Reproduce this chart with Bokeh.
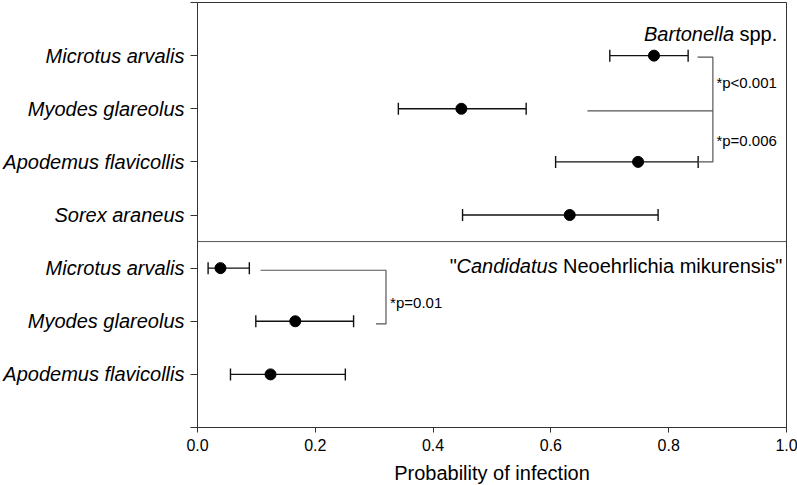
from bokeh.plotting import figure
from bokeh.models import (Range1d, FixedTicker, ColumnDataSource, Whisker, TeeHead,
                          Span, Label)
from bokeh.embed import file_html
from bokeh.resources import INLINE
from bokeh.core.properties import value

# ---------------- data ----------------
species_top = ["Microtus arvalis", "Myodes glareolus", "Apodemus flavicollis", "Sorex araneus"]
bart_est = [0.775, 0.448, 0.748, 0.632]
bart_lo = [0.700, 0.341, 0.608, 0.450]
bart_hi = [0.833, 0.558, 0.850, 0.782]

species_bottom = ["Microtus arvalis", "Myodes glareolus", "Apodemus flavicollis"]
cnm_est = [0.039, 0.166, 0.124]
cnm_lo = [0.018, 0.099, 0.056]
cnm_hi = [0.088, 0.265, 0.251]

x_ticks = [0.0, 0.2, 0.4, 0.6, 0.8, 1.0]
x_tick_labels = ["0.0", "0.2", "0.4", "0.6", "0.8", "1.0"]

p_labels = ["*p<0.001", "*p=0.006", "*p=0.01"]

# ---------------- layout rows ----------------
labels = species_top + species_bottom
rows = list(range(1, len(labels) + 1))
est = bart_est + cnm_est
lo = bart_lo + cnm_lo
hi = bart_hi + cnm_hi
divider = len(species_top) + 0.5
n_rows = len(labels) + 1

FONT = "Liberation Sans"
AX = "#333333"
BR = "#555555"

p = figure(frame_width=589, frame_height=425, output_backend="svg", toolbar_location=None,
           x_range=Range1d(0, 1), y_range=Range1d(n_rows, 0),
           min_border_left=196, min_border_top=2, min_border_right=12, min_border_bottom=10)
p.background_fill_color = "white"
p.border_fill_color = "white"
p.outline_line_color = AX
p.outline_line_width = 1
p.xgrid.visible = False
p.ygrid.visible = False

# axes
p.xaxis.ticker = FixedTicker(ticks=x_ticks)
p.xaxis.major_label_overrides = {t: l for t, l in zip(x_ticks, x_tick_labels)}
p.xaxis.axis_label = "Probability of infection"
p.xaxis.axis_label_text_font = FONT
p.xaxis.axis_label_text_font_size = "20px"
p.xaxis.axis_label_text_font_style = "normal"
p.xaxis.axis_label_text_color = "black"
p.xaxis.axis_label_standoff = 8
p.xaxis.major_label_text_font = FONT
p.xaxis.major_label_text_font_size = "16px"
p.xaxis.major_label_text_color = "black"
p.xaxis.major_label_standoff = 6
p.xaxis.major_tick_out = 5
p.xaxis.major_tick_in = 0
p.xaxis.minor_tick_out = 0
p.xaxis.minor_tick_in = 0
p.xaxis.axis_line_color = AX
p.xaxis.major_tick_line_color = AX

p.yaxis.ticker = FixedTicker(ticks=list(range(0, n_rows + 1)))
ov = {0: "", n_rows: ""}
ov.update({r: l for r, l in zip(rows, labels)})
p.yaxis.major_label_overrides = ov
p.yaxis.major_label_text_font = FONT
p.yaxis.major_label_text_font_size = "20px"
p.yaxis.major_label_text_font_style = "italic"
p.yaxis.major_label_text_color = "black"
p.yaxis.major_label_standoff = 6
p.yaxis.major_tick_out = 7
p.yaxis.major_tick_in = 0
p.yaxis.minor_tick_out = 0
p.yaxis.minor_tick_in = 0
p.yaxis.axis_line_color = AX
p.yaxis.major_tick_line_color = AX

# divider between panels
p.add_layout(Span(location=divider, dimension="width", line_color="#555555", line_width=1))

# error bars
src = ColumnDataSource(dict(y=rows, est=est, lo=lo, hi=hi))
w = Whisker(source=src, base="y", lower="lo", upper="hi", dimension="width",
            line_color="#111111", line_width=1.4,
            lower_head=TeeHead(size=12, line_color="#111111", line_width=1.4),
            upper_head=TeeHead(size=12, line_color="#111111", line_width=1.4))
p.add_layout(w)
p.scatter("est", "y", source=src, size=11, color="black", line_color="black")

# significance brackets
br_xs = [[0.849, 0.875, 0.875, 0.850], [0.662, 0.875],
         [0.107, 0.320, 0.320, 0.303]]
br_ys = [[1.03, 1.03, 3.0, 3.0], [2.04, 2.04],
         [5.04, 5.04, 6.05, 6.05]]
p.multi_line(br_xs, br_ys, line_color=BR, line_width=1.2)

p.text(x=[0.881, 0.881, 0.327], y=[1.50, 2.60, 5.65], text=p_labels,
       text_font=value(FONT), text_font_size="15px", text_color="black",
       text_align="left", text_baseline="alphabetic")

# panel titles
p.add_layout(Label(x=0.9842, y=0.59, text="spp.", text_font=FONT, text_font_size="20px",
                   text_align="right", text_baseline="alphabetic", text_color="black"))
p.add_layout(Label(x=0.911, y=0.59, text="Bartonella", text_font=FONT, text_font_size="20px",
                   text_font_style="italic", text_align="right", text_baseline="alphabetic",
                   text_color="black"))
p.add_layout(Label(x=0.993, y=4.96, text="Neoehrlichia mikurensis\"", text_font=FONT,
                   text_font_size="20px", text_align="right", text_baseline="alphabetic",
                   text_color="black"))
p.add_layout(Label(x=0.6115, y=4.96, text="Candidatus", text_font=FONT, text_font_size="20px",
                   text_font_style="italic", text_align="right", text_baseline="alphabetic",
                   text_color="black"))
p.add_layout(Label(x=0.4403, y=4.96, text="\"", text_font=FONT, text_font_size="20px",
                   text_align="right", text_baseline="alphabetic", text_color="black"))

open("out.html", "w").write(file_html(p, INLINE))
